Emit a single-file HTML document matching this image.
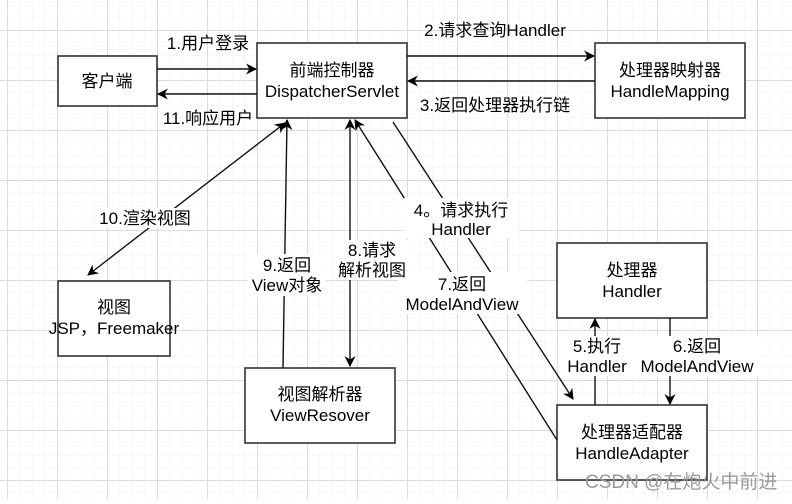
<!DOCTYPE html>
<html><head><meta charset="utf-8"><style>
html,body{margin:0;padding:0;background:#fff;}
svg text{font-family:"Liberation Sans","Noto Sans CJK SC",sans-serif;font-size:17px;fill:#000;}
</style></head><body>
<svg width="792" height="499" viewBox="0 0 792 499" xmlns="http://www.w3.org/2000/svg">
<defs>
<pattern id="minor" x="7" y="30" width="12.5" height="12.5" patternUnits="userSpaceOnUse">
<path d="M0 0H12.5M0 0V12.5" stroke="#f1f1f1" stroke-width="1" fill="none"/>
</pattern>
<pattern id="major" x="7" y="30" width="50" height="50" patternUnits="userSpaceOnUse">
<path d="M0 0.5H50M0.5 0V50" stroke="#dcdcdc" stroke-width="1" fill="none"/>
</pattern>
<marker id="ah" viewBox="0 0 10 10" refX="9" refY="5" markerWidth="11" markerHeight="11" orient="auto-start-reverse" markerUnits="userSpaceOnUse">
<path d="M0 0L10 5L0 10L3 5Z" fill="#000"/>
</marker>
</defs>
<rect width="792" height="499" fill="#fff"/>
<rect width="792" height="499" fill="url(#minor)"/>
<rect width="792" height="499" fill="url(#major)"/>

<g fill="#fff" stroke="#333" stroke-width="1.6">
<rect x="58" y="56" width="99" height="50"/>
<rect x="257" y="43" width="150" height="75"/>
<rect x="595" y="43" width="150" height="75"/>
<rect x="58" y="281" width="112" height="75"/>
<rect x="245" y="368" width="150" height="75"/>
<rect x="557" y="243" width="150" height="75"/>
<rect x="557" y="405" width="150" height="75"/>
</g>

<g stroke="#111" stroke-width="1.4" fill="none">
<line x1="157" y1="69" x2="256" y2="69" marker-end="url(#ah)"/>
<line x1="257" y1="94" x2="158" y2="94" marker-end="url(#ah)"/>
<line x1="407" y1="56" x2="594" y2="56" marker-end="url(#ah)"/>
<line x1="595" y1="81" x2="408" y2="81" marker-end="url(#ah)"/>
<line x1="88" y1="275" x2="285" y2="123" marker-start="url(#ah)" marker-end="url(#ah)"/>
<line x1="283" y1="368" x2="287" y2="120" marker-end="url(#ah)"/>
<line x1="350" y1="120" x2="350" y2="366" marker-start="url(#ah)" marker-end="url(#ah)"/>
<line x1="557" y1="440" x2="355" y2="120" marker-end="url(#ah)"/>
<line x1="393" y1="122" x2="573" y2="399" marker-end="url(#ah)"/>
<line x1="595" y1="405" x2="595" y2="319" marker-end="url(#ah)"/>
<line x1="670" y1="318" x2="670" y2="404" marker-end="url(#ah)"/>
</g>

<g fill="#fff">
<rect x="403" y="198" width="116" height="40"/>
<rect x="398" y="272" width="129" height="42"/>
<rect x="248" y="254" width="78" height="42"/>
<rect x="334" y="240" width="78" height="40"/>
<rect x="95" y="208" width="100" height="20"/>
<rect x="560" y="336" width="74" height="40"/>
<rect x="635" y="336" width="124" height="40"/>
</g>

<g text-anchor="middle">
<text x="107" y="87">客户端</text>
<text x="332" y="76">前端控制器</text>
<text x="332" y="97">DispatcherServlet</text>
<text x="670" y="76">处理器映射器</text>
<text x="670" y="97">HandleMapping</text>
<text x="114" y="313">视图</text>
<text x="114" y="334">JSP，Freemaker</text>
<text x="320" y="400">视图解析器</text>
<text x="320" y="421">ViewResover</text>
<text x="632" y="276">处理器</text>
<text x="632" y="297">Handler</text>
<text x="632" y="438">处理器适配器</text>
<text x="632" y="459">HandleAdapter</text>

<text x="208" y="49">1.用户登录</text>
<text x="208" y="124">11.响应用户</text>
<text x="495" y="36">2.请求查询Handler</text>
<text x="495" y="111">3.返回处理器执行链</text>
<text x="145" y="224">10.渲染视图</text>
<text x="461" y="216">4。请求执行</text>
<text x="461" y="235">Handler</text>
<text x="462" y="290">7.返回</text>
<text x="462" y="310">ModelAndView</text>
<text x="287" y="271">9.返回</text>
<text x="287" y="291">View对象</text>
<text x="372" y="256">8.请求</text>
<text x="372" y="276">解析视图</text>
<text x="597" y="352">5.执行</text>
<text x="597" y="372">Handler</text>
<text x="697" y="352">6.返回</text>
<text x="697" y="372">ModelAndView</text>
</g>
<text x="585" y="488" style="fill:#9a9a9a;font-size:19px;">CSDN @在炮火中前进</text>
</svg>
</body></html>
